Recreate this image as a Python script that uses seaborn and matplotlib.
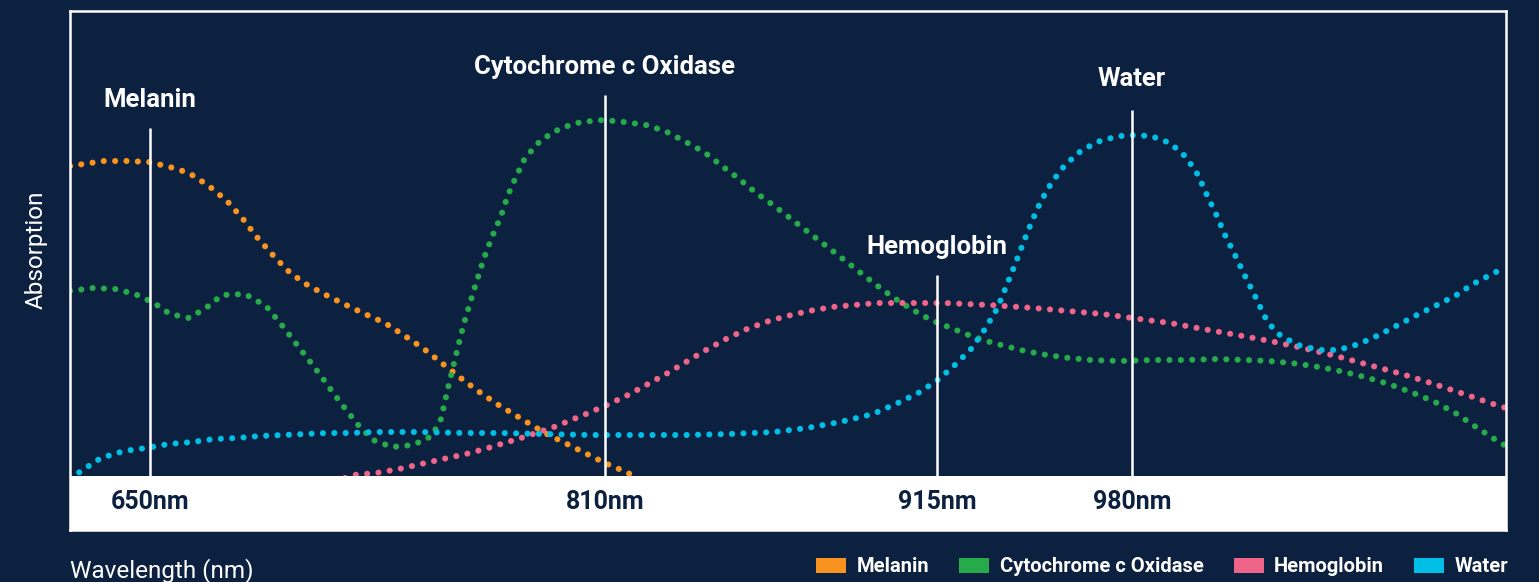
import matplotlib
matplotlib.use("Agg")
import matplotlib.pyplot as plt
from matplotlib.patches import Patch
import numpy as np
import pandas as pd
import seaborn as sns

# ---------------- data (x = position along the axis, y = absorption, arbitrary units) -------------
melanin_x = [0, 34, 57, 79, 100, 119, 139, 157, 173, 186, 201, 217, 234, 254, 274, 295, 315, 335,
             354, 373, 392, 408, 427, 455, 475, 495, 515, 535, 556, 575]
melanin_y = [310, 315, 315, 314, 309, 303, 290, 275, 257, 240, 223, 206, 193, 182, 172, 162, 153, 140,
             127, 112, 97, 85, 72, 55, 43, 33, 23, 13, 4, -6]

cyto_x = [0, 23, 45, 65, 84, 100, 119, 136, 152, 175, 196, 211, 224, 238, 251, 264, 277, 289, 303,
          322, 343, 362, 371, 378, 386, 394, 404, 414, 422, 431, 438, 445, 455, 471, 491, 511, 533,
          554, 576, 595, 614, 634, 652, 668, 685, 703, 720, 738, 755, 773, 787, 805, 824, 843, 861,
          881, 901, 923, 955, 977, 999, 1021, 1049, 1082, 1114, 1147, 1177, 1199, 1221, 1243, 1265,
          1287, 1309, 1330, 1351, 1367, 1387, 1406, 1426, 1436]
cyto_y = [185, 188, 187, 182, 173, 162, 158, 168, 181, 182, 170, 152, 135, 117, 100, 82, 65, 50, 36,
          29, 31, 40, 57, 88, 121, 153, 186, 218, 239, 260, 281, 297, 318, 336, 348, 354, 356,
          354, 351, 345, 335, 324, 310, 298, 284, 271, 258, 244, 231, 217, 206, 192, 178, 166, 156,
          148, 140, 133, 125, 121, 118, 116, 115, 116, 116, 117, 116, 115, 113, 110, 106,
          101, 95, 88, 80, 73, 62, 49, 36, 30]

hemo_x = [275, 283, 306, 329, 351, 373, 396, 418, 451, 484, 516, 537, 558, 578, 596, 616, 636, 656,
          677, 699, 717, 739, 762, 784, 807, 830, 853, 875, 897, 919, 964, 998, 1032, 1055, 1077,
          1100, 1133, 1167, 1200, 1233, 1266, 1299, 1332, 1364, 1397, 1420, 1436]
hemo_y = [-2, 1, 3, 7, 12, 17, 22, 28, 38, 49, 62, 71, 81, 92, 102, 114, 126, 137,
          147, 155, 160, 165, 169, 171, 173, 173, 173, 173, 172, 171, 168, 165, 162, 159, 156,
          153, 147, 141, 135, 128, 120, 111, 102, 92, 81, 73, 68]

water_x = [0, 11, 31, 54, 76, 99, 122, 144, 167, 190, 213, 235, 258, 281, 303, 349, 395, 430, 474,
           520, 565, 615, 659, 704, 737, 770, 803, 830, 850, 869, 886, 902, 915, 927, 938, 946, 954,
           962, 971, 982, 995, 1012, 1032, 1056, 1081, 1100, 1116, 1128, 1136, 1146, 1155, 1165,
           1175, 1185, 1195, 1202, 1211, 1228, 1249, 1268, 1289, 1309, 1326, 1345, 1365, 1385,
           1403, 1424, 1436]
water_y = [-3, 5, 18, 25, 28, 32, 34, 37, 38, 40, 41, 42, 43, 43, 44, 44, 43, 43, 42,
           41, 41, 41, 42, 44, 48, 54, 62, 74, 84, 97, 112, 128, 147, 167, 194, 214, 235,
           255, 275, 294, 311, 326, 336, 341, 340, 333, 319, 301, 283, 262, 241, 221,
           200, 180, 159, 149, 140, 131, 126, 126, 132, 141, 150, 160, 170, 180,
           192, 203, 209]

series_names = ["Melanin", "Cytochrome c Oxidase", "Hemoglobin", "Water"]
series_colors = ["#F7931E", "#27AA4A", "#EF6489", "#00BFE6"]

tick_pos = [80, 535, 867, 1062]
tick_labels = ["650nm", "810nm", "915nm", "980nm"]
marker_tops = [348, 381, 201, 366]
marker_labels = ["Melanin", "Cytochrome c Oxidase", "Hemoglobin", "Water"]
marker_label_y = [376, 409, 229, 397]

BG = "#0C2040"

# ---------------- figure ----------------
sns.set_theme(style="white")
plt.rcParams["font.family"] = ["Roboto", "DejaVu Sans"]

W, H = 1539, 582
fig = plt.figure(figsize=(W / 100, H / 100), dpi=100, facecolor=BG)
ax = fig.add_axes([70 / W, 52 / H, 1436 / W, 519 / H])
ax.set_facecolor(BG)
ax.set_xlim(0, 1436)
ax.set_ylim(-54, 465)

series = [(melanin_x, melanin_y), (cyto_x, cyto_y), (hemo_x, hemo_y), (water_x, water_y)]
for (xs, ys), c in zip(series, series_colors):
    sns.lineplot(x=xs, y=ys, ax=ax, color=c, linewidth=4.4, linestyle=(0, (0.01, 1.85)),
                 dash_capstyle="round", sort=False, estimator=None, legend=False, zorder=1.0)

# marker lines
ax.vlines(tick_pos, 0, marker_tops, colors="white", linewidth=1.8, zorder=1.1)
# white band under the plot
ax.axhspan(-54, 0, color="white", zorder=1.4, lw=0)

for xp, yl, lab in zip(tick_pos, marker_label_y, marker_labels):
    ax.text(xp, yl, lab, ha="center", va="center", color="white", fontsize=18.5,
            fontweight="bold", zorder=5)

ax.set_axisbelow(False)
ax.set_xticks(tick_pos, tick_labels)
ax.tick_params(axis="x", length=0, pad=-20, labelsize=18, labelcolor=BG)
for lbl in ax.get_xticklabels():
    lbl.set_fontweight("bold")
    lbl.set_va("center")
ax.xaxis.set_zorder(3)
ax.set_yticks([])

for s in ax.spines.values():
    s.set_color("white")
    s.set_linewidth(1.8)

ax.set_xlabel("Wavelength (nm)", color="white", fontsize=17.5, loc="left")
ax.xaxis.set_label_coords(0, -28 / 519)
ax.set_ylabel("Absorption", color="white", fontsize=17.5)
ax.yaxis.set_label_coords(-22 / 1436, (530 - 250) / 519)

handles = [Patch(facecolor=c, edgecolor="none", label=n) for n, c in zip(series_names, series_colors)]
leg = fig.legend(handles=handles, loc="center right", bbox_to_anchor=(1508 / W, 15 / H), ncol=4,
                 frameon=False, fontsize=14.5, handlelength=1.5, handleheight=0.72,
                 handletextpad=0.5, columnspacing=1.5, borderpad=0, borderaxespad=0)
for t in leg.get_texts():
    t.set_color("white")
    t.set_fontweight("bold")

fig.savefig("out.png", dpi=100, facecolor=BG)
